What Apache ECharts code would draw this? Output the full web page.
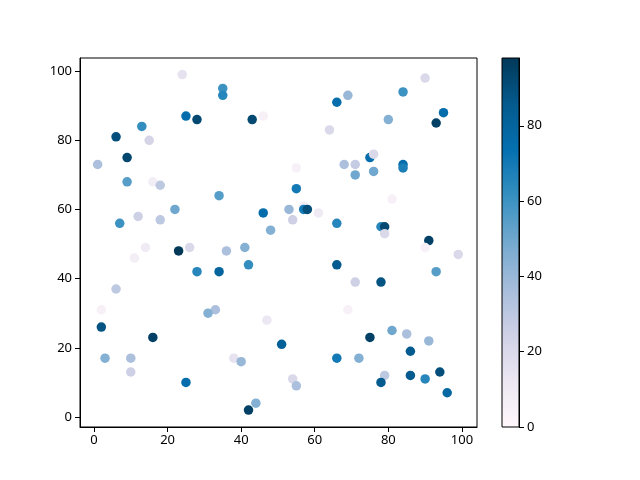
<!DOCTYPE html>
<html>
<head>
<meta charset="utf-8">
<script src="https://cdn.jsdelivr.net/npm/echarts@6/dist/echarts.min.js"></script>
<style>
  html, body { margin: 0; padding: 0; background: #fff; }
  #chart { width: 640px; height: 480px; }
</style>
</head>
<body>
<div id="chart"></div>
<script>
// scatter data
const xValues = [24,25,28,13,6,15,9,1,9,16,18,35,35,66,43,46,64,55,68,55,90,69,84,95,93,80,71,75,76,71,76,84,84,34,81,
  22,12,18,7,14,11,23,26,28,6,2,46,53,57,57,58,61,54,66,48,36,41,42,34,66,33,31,78,79,79,91,90,99,93,71,78,69,
  2,16,3,10,10,25,47,51,66,38,40,54,55,44,42,75,81,85,91,86,72,79,78,86,90,94,96];
const yValues = [99,87,86,84,81,80,75,73,68,68,67,95,93,91,86,87,83,72,73,66,98,93,94,88,85,86,73,75,76,70,71,73,72,64,63,
  60,58,57,56,49,46,48,49,42,37,31,59,60,61,60,60,59,57,56,54,48,49,44,42,44,31,30,55,55,53,51,49,47,42,39,39,31,
  26,23,17,17,13,10,28,21,17,17,16,11,9,4,2,23,25,24,22,19,17,12,10,12,11,13,7];
const colorValues = [15,75,92,62,90,22,93,35,55,8,30,60,65,75,92,5,20,5,35,70,20,40,60,75,95,45,28,75,20,50,50,75,68,55,5,
  50,25,30,60,10,8,98,20,65,30,5,75,40,8,70,90,10,25,65,45,35,45,62,80,85,35,45,65,92,20,95,5,20,55,25,88,5,
  88,95,45,35,25,75,12,82,70,15,40,20,35,45,95,95,50,35,40,85,45,30,85,85,65,90,78];
const cbTicks = [0, 20, 40, 60, 80];
const axisTicks = [0, 20, 40, 60, 80, 100];

// PuBu colormap
const puBu = ['#fff7fb','#ece7f2','#d0d1e6','#a6bddb','#74a9cf','#3690c0','#0570b0','#045a8d','#023858'];
const cMin = 0, cMax = 98;

const points = xValues.map((x, i) => [x, yValues[i], colorValues[i]]);

const myChart = echarts.init(document.getElementById('chart'));
const font = 'Noto Sans';

const option = {
  animation: false,
  grid: [
    { left: 80, top: 58, width: 397, height: 369, show: true, borderColor: '#000', borderWidth: 1 },
    {
      left: 502, top: 58, width: 17, height: 369, show: true, borderColor: '#000', borderWidth: 1,
      backgroundColor: new echarts.graphic.LinearGradient(0, 1, 0, 0,
        puBu.map((c, i) => ({ offset: i / (puBu.length - 1), color: c })))
    }
  ],
  xAxis: [
    {
      gridIndex: 0, type: 'value', min: -3.8, max: 104.1,
      splitLine: { show: false },
      axisLine: { onZero: false, lineStyle: { color: '#000' } },
      axisTick: { show: true, length: 5, lineStyle: { color: '#000' }, customValues: axisTicks },
      axisLabel: { color: '#000', fontFamily: font, fontSize: 13, margin: 7, customValues: axisTicks }
    },
    { gridIndex: 1, type: 'value', show: false, min: 0, max: 1 }
  ],
  yAxis: [
    {
      gridIndex: 0, type: 'value', min: -2.9, max: 103.8,
      splitLine: { show: false },
      axisLine: { onZero: false, lineStyle: { color: '#000' } },
      axisTick: { show: true, length: 5, lineStyle: { color: '#000' }, customValues: axisTicks },
      axisLabel: { color: '#000', fontFamily: font, fontSize: 13, margin: 8, customValues: axisTicks }
    },
    {
      gridIndex: 1, type: 'value', position: 'right', min: cMin, max: cMax,
      splitLine: { show: false },
      axisLine: { show: true, onZero: false, lineStyle: { color: '#000' } },
      axisTick: { show: true, length: 5, lineStyle: { color: '#000' }, customValues: cbTicks },
      axisLabel: { color: '#000', fontFamily: font, fontSize: 13, margin: 8, customValues: cbTicks }
    }
  ],
  visualMap: {
    show: false,
    type: 'continuous',
    seriesIndex: 0,
    dimension: 2,
    min: cMin,
    max: cMax,
    inRange: { color: puBu }
  },
  series: [
    {
      type: 'scatter',
      xAxisIndex: 0,
      yAxisIndex: 0,
      symbolSize: 9.5,
      itemStyle: { opacity: 1 },
      data: points
    }
  ]
};

myChart.setOption(option);
</script>
</body>
</html>
